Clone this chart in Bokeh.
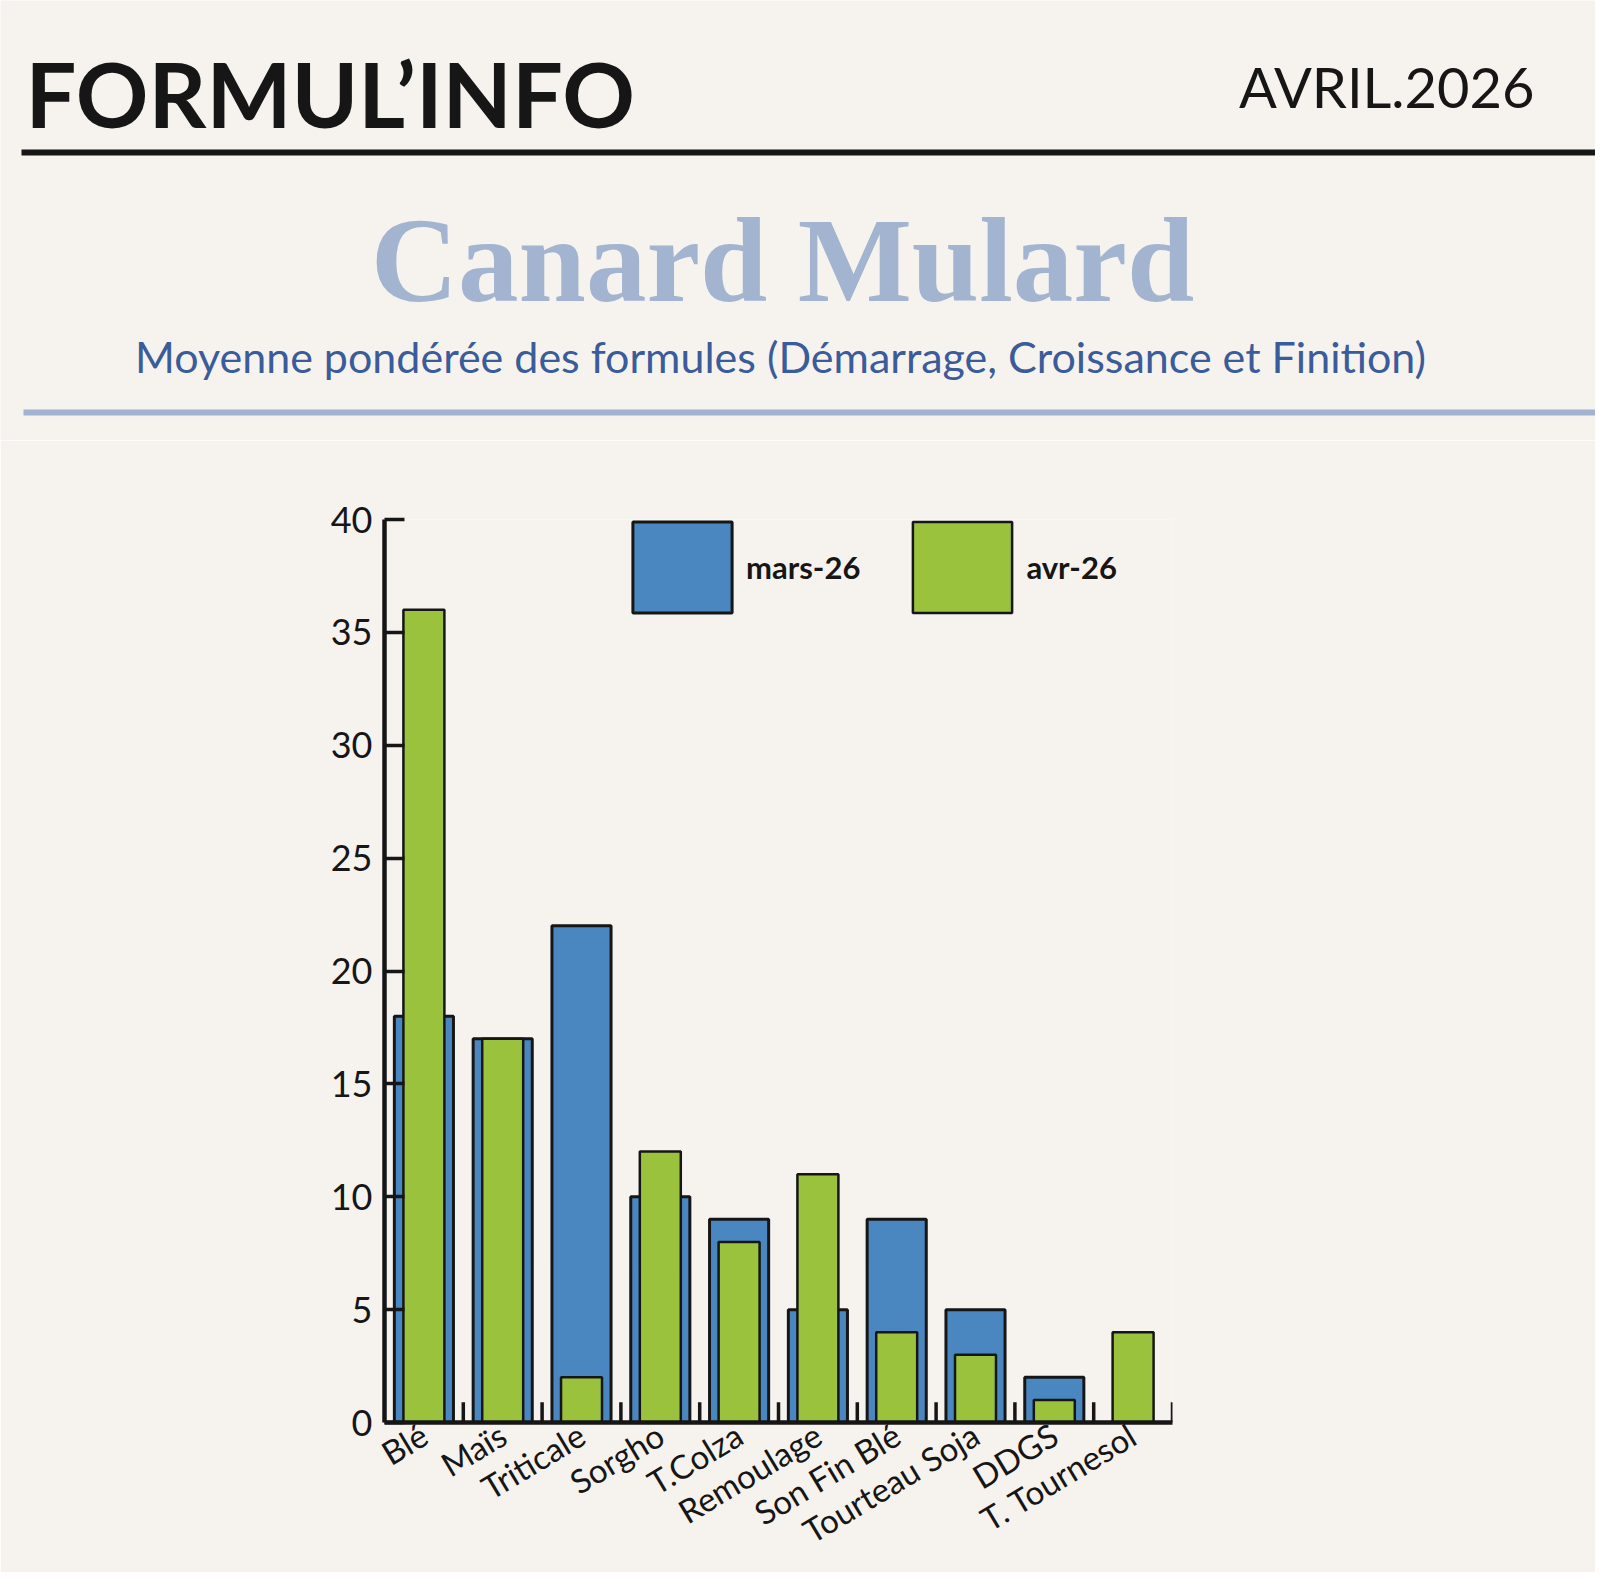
import math
from bokeh.plotting import figure
from bokeh.models import ColumnDataSource, Range1d, FactorRange, FixedTicker
from bokeh.layouts import column, row
from bokeh.transform import dodge
from bokeh.core.properties import value
from bokeh.embed import file_html
from bokeh.resources import INLINE

# ---- data ----
categories = ["Blé", "Maïs", "Triticale", "Sorgho", "T.Colza", "Remoulage",
              "Son Fin Blé", "Tourteau Soja", "DDGS", "T. Tournesol"]
mars_26 = [18, 17, 22, 10, 9, 5, 9, 5, 2, 0]
avr_26 = [36, 17, 2, 12, 8, 11, 4, 3, 1, 4]
y_ticks = [0, 5, 10, 15, 20, 25, 30, 35, 40]
series_labels = ["mars-26", "avr-26"]

header_title = "FORMUL\u2019INFO"
header_date = "AVRIL.2026"
chart_title = "Canard Mulard"
chart_subtitle = "Moyenne pondérée des formules (Démarrage, Croissance et Finition)"

BG = "#f6f3ef"
BLUE = "#4a87c0"
GREEN = "#9ac23c"
INK = "#161616"

W = 1595
H_HEAD = 440
H_CHART = 1132

# ---- header ----
head = figure(width=W, height=H_HEAD, x_range=Range1d(0, W), y_range=Range1d(H_HEAD, 0),
              output_backend="svg", toolbar_location=None, min_border=0,
              x_axis_type=None, y_axis_type=None)
head.background_fill_color = BG
head.border_fill_color = BG
head.outline_line_color = None
head.grid.visible = False

head.text(x=[25], y=[92], text=[header_title], text_font=value("Lato"),
          text_font_size=value("90px"), text_font_style="bold", text_color=INK,
          text_align="left", text_baseline="alphabetic")
head.text(x=[1534], y=[86], text=[header_date], text_font=value("Lato"),
          text_font_size=value("56px"), text_color=INK,
          text_align="right", text_baseline="alphabetic")
head.segment(x0=[21], y0=[152], x1=[W], y1=[152], line_color=INK, line_width=6)
head.text(x=[782], y=[259], text=[chart_title], text_font=value("Liberation Serif"),
          text_font_size=value("121px"), text_font_style="bold", text_color="#a3b4d0",
          text_align="center", text_baseline="alphabetic")
head.text(x=[780], y=[356], text=[chart_subtitle], text_font=value("Lato"),
          text_font_size=value("43px"), text_color="#3b5c9a",
          text_align="center", text_baseline="alphabetic")
head.segment(x0=[23], y0=[412], x1=[W], y1=[412], line_color="#a1b3d0", line_width=6)

# ---- chart ----
src = ColumnDataSource(dict(cat=categories, mars=mars_26, avr=avr_26,
                            zero=[0] * len(categories),
                            tick=[0.9] * len(categories)))

p = figure(width=W, height=H_CHART, x_range=FactorRange(*categories), y_range=Range1d(0, 40),
           output_backend="svg", toolbar_location=None,
           min_border_left=384, min_border_right=423, min_border_top=79, min_border_bottom=150)
p.background_fill_color = BG
p.border_fill_color = BG
p.outline_line_color = None
p.grid.visible = False

p.vbar(x="cat", top="mars", width=0.75, source=src, fill_color=BLUE,
       line_color=INK, line_width=3, legend_label=series_labels[0])
p.vbar(x="cat", top="avr", width=0.52, source=src, fill_color=GREEN,
       line_color=INK, line_width=2.5, legend_label=series_labels[1])

bx = dodge("cat", 0.5, range=p.x_range)
p.segment(x0=bx, y0="zero", x1=bx, y1="tick", source=src, line_color=INK, line_width=3.5)

yax = p.yaxis[0]
yax.ticker = FixedTicker(ticks=y_ticks)
yax.major_tick_in = 20
yax.major_tick_out = 0
yax.minor_tick_line_color = None
yax.major_tick_line_width = 3.5
yax.major_tick_line_color = INK
yax.axis_line_width = 4.5
yax.axis_line_color = INK
yax.major_label_text_font = "Lato"
yax.major_label_text_font_size = "36px"
yax.major_label_text_color = INK
yax.major_label_standoff = 12

xax = p.xaxis[0]
xax.major_tick_in = 0
xax.major_tick_out = 0
xax.axis_line_width = 4.5
xax.axis_line_color = INK
xax.major_label_orientation = math.radians(31)
xax.major_label_text_font = "Lato"
xax.major_label_text_font_size = "33px"
xax.major_label_text_color = INK
xax.major_label_standoff = 9

lg = p.legend[0]
lg.orientation = "horizontal"
lg.location = (236, 798)
lg.glyph_width = 124
lg.glyph_height = 114
lg.label_standoff = 2
lg.spacing = 40
lg.padding = 0
lg.margin = 0
lg.border_line_color = None
lg.background_fill_alpha = 0
lg.label_text_font = "Lato"
lg.label_text_font_style = "bold"
lg.label_text_font_size = "31px"
lg.label_text_color = INK

layout = column(row(head), row(p), spacing=0)
open("out.html", "w").write(file_html(layout, INLINE))
